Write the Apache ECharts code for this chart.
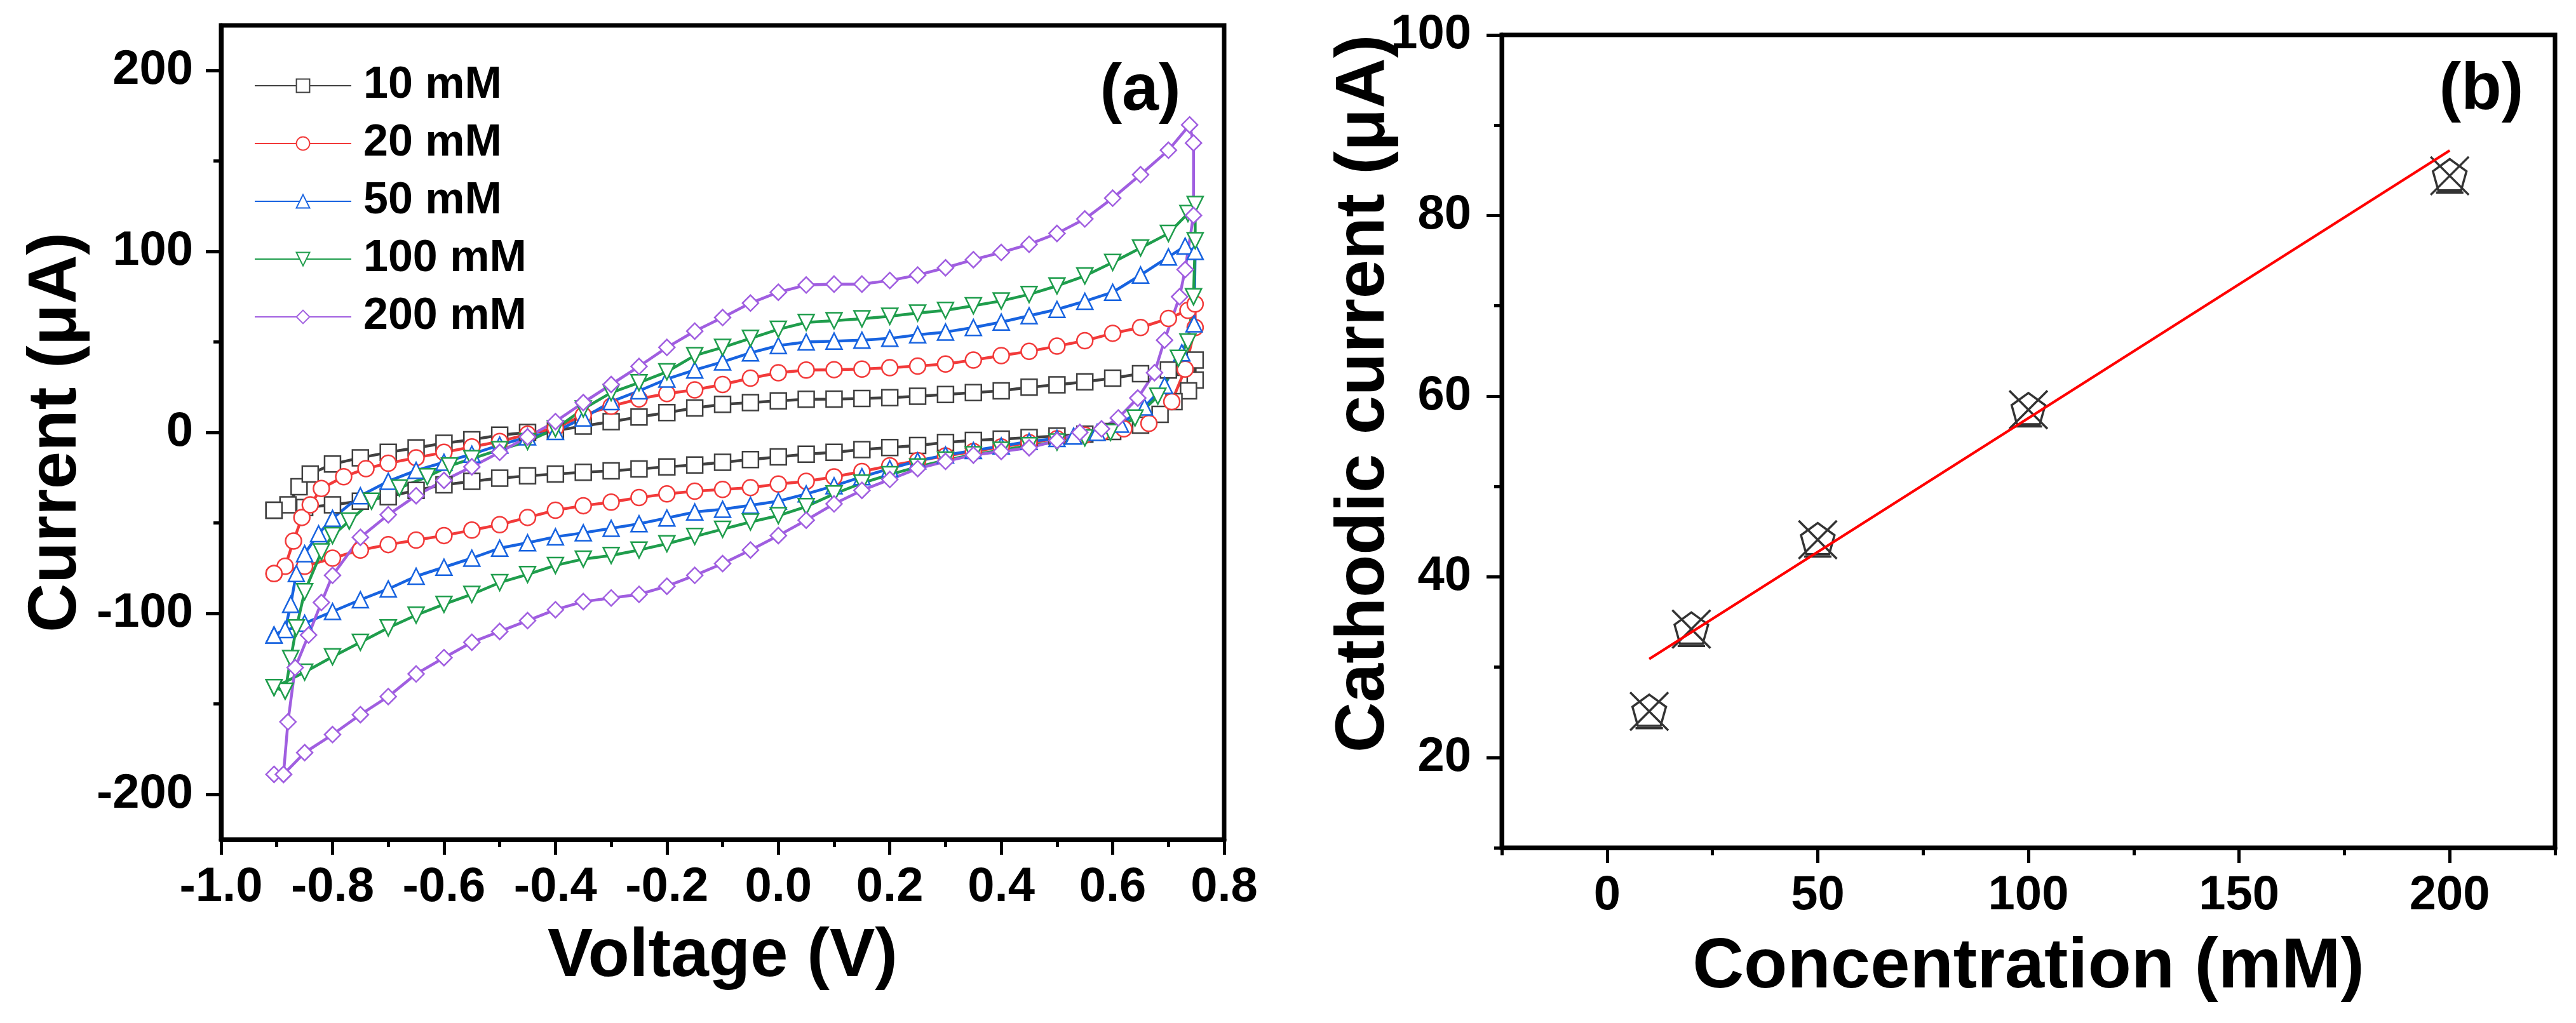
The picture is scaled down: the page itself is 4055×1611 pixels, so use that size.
<!DOCTYPE html>
<html>
<head>
<meta charset="utf-8">
<script src="https://cdn.jsdelivr.net/npm/echarts@6/dist/echarts.min.js"></script>
<style>
  html, body { margin: 0; padding: 0; background: #fff; }
  #main { width: 4055px; height: 1611px; }
</style>
</head>
<body>
<div id="main"></div>
<script type="text/javascript">
    // (a) cyclic voltammograms, [voltage V, current uA], forward branch then reverse branch
    var cv10 = [
        [-0.905, -43], [-0.88, -40], [-0.86, -30], [-0.84, -23], [-0.80, -17.5], [-0.75, -14], [-0.70, -11],
        [-0.65, -8.5], [-0.60, -6], [-0.55, -4], [-0.50, -1.5], [-0.45, 0], [-0.40, 1], [-0.35, 3.5],
        [-0.30, 6], [-0.25, 8.5], [-0.20, 11], [-0.15, 13.5], [-0.10, 15.5], [-0.05, 16.5], [0.0, 17.5],
        [0.05, 18.3], [0.10, 18.4], [0.15, 18.8], [0.20, 19.2], [0.25, 20], [0.30, 21], [0.35, 22],
        [0.40, 23], [0.45, 25], [0.50, 26.3], [0.55, 28], [0.60, 30], [0.65, 32.5], [0.70, 34.5],
        [0.73, 36], [0.748, 40],
        [0.748, 29], [0.736, 23], [0.71, 17], [0.685, 10], [0.65, 4], [0.60, 0.5], [0.55, -1], [0.50, -2],
        [0.45, -2.8], [0.40, -3.7], [0.35, -4.4], [0.30, -5.5], [0.25, -7.2], [0.20, -8.3], [0.15, -9.5],
        [0.10, -11], [0.05, -12], [0.0, -13.5], [-0.05, -15], [-0.10, -16.5], [-0.15, -18], [-0.20, -19],
        [-0.25, -20.2], [-0.30, -21.2], [-0.35, -22], [-0.40, -23], [-0.45, -24], [-0.50, -25.3],
        [-0.55, -27], [-0.60, -29], [-0.65, -32], [-0.70, -35.5], [-0.75, -38], [-0.80, -40], [-0.85, -41.5],
        [-0.905, -43]
    ];
    var cv20 = [
        [-0.905, -78], [-0.885, -74], [-0.87, -60], [-0.855, -47], [-0.84, -40], [-0.82, -31], [-0.78, -24.5],
        [-0.74, -20], [-0.70, -17], [-0.65, -14], [-0.60, -11], [-0.55, -8], [-0.50, -5], [-0.45, -1],
        [-0.40, 2.5], [-0.35, 9.5], [-0.30, 14.5], [-0.25, 18.5], [-0.20, 21.5], [-0.15, 23.5], [-0.10, 26.5],
        [-0.05, 30], [0.0, 33], [0.05, 34.5], [0.10, 34.7], [0.15, 35], [0.20, 35.8], [0.25, 36.7],
        [0.30, 37.8], [0.35, 40], [0.40, 42.5], [0.45, 44.8], [0.50, 47.7], [0.55, 50.7], [0.60, 54.8],
        [0.65, 58], [0.70, 63], [0.735, 67.5], [0.748, 71],
        [0.748, 58], [0.73, 35], [0.706, 17], [0.665, 5], [0.62, 2], [0.58, 0], [0.55, -1.5], [0.50, -3.5],
        [0.45, -5.6], [0.40, -8], [0.35, -10.5], [0.30, -13], [0.25, -15.6], [0.20, -18.4], [0.15, -21.6],
        [0.10, -24.6], [0.05, -27], [0.0, -28.5], [-0.05, -30.5], [-0.10, -31.5], [-0.15, -32.5],
        [-0.20, -34], [-0.25, -36], [-0.30, -38.5], [-0.35, -40.5], [-0.40, -43], [-0.45, -47], [-0.50, -51],
        [-0.55, -54], [-0.60, -57], [-0.65, -59.5], [-0.70, -62], [-0.75, -65], [-0.80, -69.5], [-0.85, -74],
        [-0.905, -78]
    ];
    var cv50 = [
        [-0.905, -112], [-0.885, -109], [-0.875, -95], [-0.865, -78], [-0.85, -67], [-0.825, -56],
        [-0.80, -47.5], [-0.75, -35], [-0.70, -27], [-0.65, -21], [-0.60, -16.5], [-0.55, -12], [-0.50, -7],
        [-0.45, -2.5], [-0.40, 0.5], [-0.35, 8], [-0.30, 17], [-0.25, 23], [-0.20, 29.5], [-0.15, 34.5],
        [-0.10, 39], [-0.05, 44], [0.0, 48], [0.05, 50], [0.10, 50.5], [0.15, 51], [0.20, 52], [0.25, 54],
        [0.30, 55.5], [0.35, 58], [0.40, 61], [0.45, 64.5], [0.50, 68], [0.55, 72.5], [0.60, 77.5],
        [0.65, 87], [0.70, 97], [0.73, 103], [0.748, 100],
        [0.746, 60], [0.724, 44], [0.693, 26], [0.657, 14], [0.614, 4.6], [0.572, 0], [0.53, -2],
        [0.50, -3.3], [0.45, -5], [0.40, -7.5], [0.35, -10], [0.30, -12.5], [0.25, -15.7], [0.20, -20],
        [0.15, -24.5], [0.10, -29.5], [0.05, -34], [0.0, -38], [-0.05, -40.3], [-0.10, -42.5], [-0.15, -44],
        [-0.20, -47.3], [-0.25, -50.5], [-0.30, -53], [-0.35, -55.5], [-0.40, -57.7], [-0.45, -61],
        [-0.50, -64], [-0.55, -69.5], [-0.60, -74.5], [-0.65, -79.5], [-0.70, -86.5], [-0.75, -92.5],
        [-0.80, -99], [-0.85, -105.5], [-0.905, -112]
    ];
    var cv100 = [
        [-0.905, -141], [-0.885, -143], [-0.875, -125], [-0.865, -108], [-0.85, -88], [-0.82, -66],
        [-0.80, -57], [-0.77, -49], [-0.73, -38], [-0.68, -30.7], [-0.63, -24.5], [-0.59, -18.5],
        [-0.55, -14.5], [-0.50, -9.5], [-0.45, -5], [-0.40, 2], [-0.35, 13], [-0.30, 22], [-0.25, 27.5],
        [-0.20, 33.5], [-0.15, 42.5], [-0.10, 47], [-0.05, 52], [0.0, 57], [0.05, 60.8], [0.10, 61.8],
        [0.15, 62.8], [0.20, 64.2], [0.25, 66], [0.30, 67.5], [0.35, 70], [0.40, 72.7], [0.45, 76.3],
        [0.50, 81], [0.55, 86.5], [0.60, 94], [0.65, 102], [0.70, 110], [0.735, 121], [0.748, 126],
        [0.748, 106], [0.745, 75], [0.735, 50], [0.718, 41], [0.681, 20], [0.64, 8], [0.596, 0], [0.55, -3],
        [0.50, -5.3], [0.45, -7.3], [0.40, -9.8], [0.35, -12.3], [0.30, -15.3], [0.25, -19], [0.20, -23.3],
        [0.15, -28], [0.10, -34], [0.05, -41], [0.0, -46], [-0.05, -49.5], [-0.10, -53.5], [-0.15, -57.5],
        [-0.20, -61.5], [-0.25, -65], [-0.30, -68], [-0.35, -70], [-0.40, -73.5], [-0.45, -78.5],
        [-0.50, -83], [-0.55, -89.5], [-0.60, -95], [-0.65, -101], [-0.70, -108], [-0.75, -116],
        [-0.80, -124], [-0.85, -132.5], [-0.905, -141]
    ];
    var cv200 = [
        [-0.905, -189], [-0.888, -189], [-0.88, -160], [-0.867, -130], [-0.843, -112], [-0.82, -94],
        [-0.80, -79], [-0.75, -58], [-0.70, -45.5], [-0.65, -35], [-0.60, -26.5], [-0.55, -19], [-0.50, -11],
        [-0.45, -2.5], [-0.40, 6], [-0.35, 16.5], [-0.30, 26.5], [-0.25, 36.5], [-0.20, 47], [-0.15, 56],
        [-0.10, 63.5], [-0.05, 71.5], [0.0, 77.5], [0.05, 81.5], [0.10, 82], [0.15, 82], [0.20, 84],
        [0.25, 87], [0.30, 91], [0.35, 95.5], [0.40, 99.5], [0.45, 104], [0.50, 110], [0.55, 118],
        [0.60, 129.5], [0.65, 142.5], [0.70, 156], [0.738, 170],
        [0.745, 160], [0.745, 120], [0.73, 90], [0.72, 75], [0.693, 51], [0.675, 33], [0.645, 19],
        [0.61, 8], [0.58, 2], [0.541, 0], [0.50, -4.5], [0.45, -8.5], [0.40, -10.5], [0.35, -12.5],
        [0.30, -16], [0.25, -20], [0.20, -26], [0.15, -32], [0.10, -39.5], [0.05, -48.5], [0.0, -57],
        [-0.05, -65], [-0.10, -72.5], [-0.15, -79], [-0.20, -85], [-0.25, -89.5], [-0.30, -91.5],
        [-0.35, -93.5], [-0.40, -98], [-0.45, -104], [-0.50, -110], [-0.55, -116], [-0.60, -124.5],
        [-0.65, -133.5], [-0.70, -146], [-0.75, -156], [-0.80, -167], [-0.85, -177], [-0.888, -189]
    ];

    var cvNames = ['10 mM', '20 mM', '50 mM', '100 mM', '200 mM'];
    var cvColors = ['#404040', '#f23a3a', '#1763e0', '#1f9d4c', '#a05ee0'];
    var cvSymbols = ['rect', 'circle', 'triangle', 'path://M0,0 L10,0 L5,9 Z', 'diamond'];

    var currentTicks = [-200, -100, 0, 100, 200];
    var currentMinor = [-150, -50, 50, 150];

    // (b) cathodic current vs concentration
    var concentration = [10, 20, 50, 100, 200];
    var cathodic = [25.1, 34.2, 44.1, 58.5, 84.4];
    var fitLine = [[10, 30.9], [200, 87.2]];
    var concTicks = [0, 50, 100, 150, 200];
    var concMinor = [-25, 25, 75, 125, 175, 225];
    var cathTicks = [20, 40, 60, 80, 100];
    var cathMinor = [10, 30, 50, 70, 90];

    var font = 'Liberation Sans, Arial, sans-serif';
    var markerPath = 'path://M0,0 L100,100 M100,0 L0,100 M50,6 L94,38 L80,88 L20,88 L6,38 Z M14,94 L86,94';

    var myChart = echarts.init(document.getElementById('main'));

    function mainAxisLine() {
        return {show: true, onZero: false, lineStyle: {color: '#000', width: 7}};
    }
    function tickLabel(margin) {
        return {color: '#000', fontSize: 76, fontWeight: 'bold', fontFamily: font, margin: margin};
    }
    function minorAxis(gridIndex, min, max, values, position) {
        return {
            type: 'value', gridIndex: gridIndex, min: min, max: max, position: position,
            axisLine: {show: false, onZero: false},
            axisTick: {show: true, inside: false, length: 12, customValues: values, lineStyle: {color: '#000', width: 5}},
            axisLabel: {show: false},
            splitLine: {show: false}
        };
    }

    var xy = concentration.map(function (c, i) { return [c, cathodic[i]]; });
    var cvData = [cv10, cv20, cv50, cv100, cv200];

    var series = cvData.map(function (d, i) {
        return {
            name: cvNames[i],
            type: 'line',
            xAxisIndex: 0,
            yAxisIndex: 0,
            data: d,
            symbol: cvSymbols[i],
            symbolSize: 25,
            showAllSymbol: true,
            lineStyle: {color: cvColors[i], width: 4.5},
            itemStyle: {color: '#fff', borderColor: cvColors[i], borderWidth: 2.5}
        };
    });
    series.push({
        name: 'fit',
        type: 'line',
        xAxisIndex: 1,
        yAxisIndex: 2,
        data: fitLine,
        symbol: 'none',
        lineStyle: {color: '#ff0000', width: 4}
    });
    series.push({
        name: 'cathodic',
        type: 'scatter',
        xAxisIndex: 1,
        yAxisIndex: 2,
        data: xy,
        symbol: markerPath,
        symbolSize: 60,
        itemStyle: {color: 'rgba(0,0,0,0)', borderColor: '#000', borderWidth: 3.5}
    });

    var option = {
        animation: false,
        backgroundColor: '#fff',
        grid: [
            {left: 348, right: 4055 - 1927, top: 40, bottom: 1611 - 1322, show: true, borderColor: '#000', borderWidth: 7},
            {left: 2364, right: 4055 - 4022, top: 55, bottom: 1611 - 1335, show: true, borderColor: '#000', borderWidth: 7}
        ],
        legend: {
            data: cvNames,
            orient: 'vertical',
            left: 395,
            top: 95,
            itemWidth: 152,
            itemHeight: 26,
            itemGap: 21,
            textStyle: {color: '#000', fontSize: 70, fontWeight: 'bold', fontFamily: font, lineHeight: 70, padding: [0, 0, 0, 14]}
        },
        graphic: [
            {type: 'text', x: 1795, y: 144, style: {text: '(a)', font: 'bold 104px ' + font, fill: '#000', align: 'center', verticalAlign: 'middle'}},
            {type: 'text', x: 3906, y: 142, style: {text: '(b)', font: 'bold 104px ' + font, fill: '#000', align: 'center', verticalAlign: 'middle'}},
            {type: 'text', x: 2148, y: 620, rotation: Math.PI / 2,
                style: {text: 'Cathodic current (\u03bcA)', font: 'bold 110px ' + font, fill: '#000', align: 'center', verticalAlign: 'middle'}}
        ],
        xAxis: [
            {
                type: 'value', gridIndex: 0, min: -1.0, max: 0.8, interval: 0.2,
                name: 'Voltage (V)', nameLocation: 'middle', nameGap: 132,
                nameTextStyle: {color: '#000', fontSize: 107, fontWeight: 'bold', fontFamily: font},
                axisLine: mainAxisLine(),
                axisTick: {show: true, inside: false, length: 24, lineStyle: {color: '#000', width: 5}},
                minorTick: {show: true, splitNumber: 2, length: 12, lineStyle: {color: '#000', width: 5}},
                axisLabel: Object.assign(tickLabel(38), {formatter: function (v) { return v.toFixed(1); }}),
                splitLine: {show: false}
            },
            {
                type: 'value', gridIndex: 1, min: -25, max: 225,
                name: 'Concentration (mM)', nameLocation: 'middle', nameGap: 133,
                nameTextStyle: {color: '#000', fontSize: 112, fontWeight: 'bold', fontFamily: font},
                axisLine: mainAxisLine(),
                axisTick: {show: true, inside: false, length: 24, customValues: concTicks, lineStyle: {color: '#000', width: 5}},
                axisLabel: Object.assign(tickLabel(38), {customValues: concTicks}),
                splitLine: {show: false}
            },
            minorAxis(1, -25, 225, concMinor, 'bottom')
        ],
        yAxis: [
            {
                type: 'value', gridIndex: 0, min: -225, max: 225, position: 'left',
                name: 'Current (\u03bcA)', nameLocation: 'middle', nameGap: 205, nameRotate: 90,
                nameTextStyle: {color: '#000', fontSize: 107, fontWeight: 'bold', fontFamily: font},
                axisLine: mainAxisLine(),
                axisTick: {show: true, inside: false, length: 24, customValues: currentTicks, lineStyle: {color: '#000', width: 5}},
                axisLabel: Object.assign(tickLabel(44), {customValues: currentTicks}),
                splitLine: {show: false}
            },
            minorAxis(0, -225, 225, currentMinor, 'left'),
            {
                type: 'value', gridIndex: 1, min: 10, max: 100, position: 'left',
                axisLine: mainAxisLine(),
                axisTick: {show: true, inside: false, length: 24, customValues: cathTicks, lineStyle: {color: '#000', width: 5}},
                axisLabel: Object.assign(tickLabel(48), {customValues: cathTicks}),
                splitLine: {show: false}
            },
            minorAxis(1, 10, 100, cathMinor, 'left')
        ],
        series: series
    };

    myChart.setOption(option);
</script>
</body>
</html>
